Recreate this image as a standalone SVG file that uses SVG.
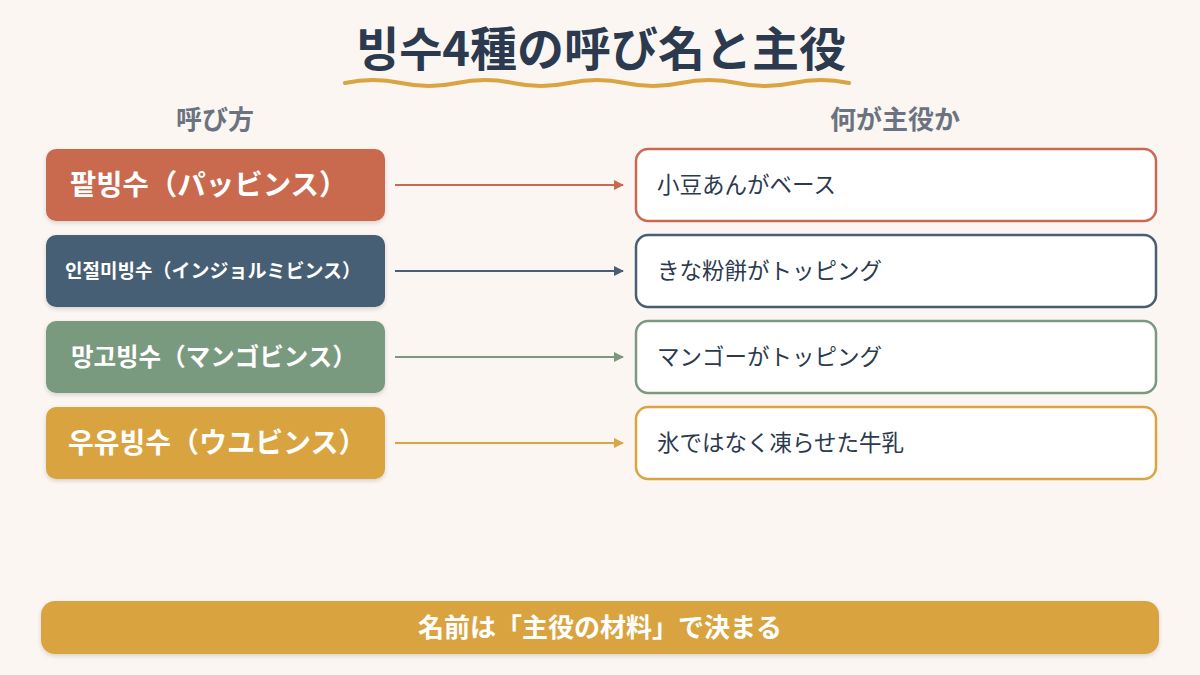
<svg xmlns="http://www.w3.org/2000/svg" width="1200" height="675" viewBox="0 0 1200 675">
<defs>
<style>
text{font-family:"Noto Sans CJK JP","Noto Sans CJK KR",sans-serif;}
.title{font-size:47px;font-weight:700;fill:#2B3A4E;}
.hdr{font-size:26px;font-weight:700;fill:#6B7280;}
.lbl{font-weight:700;fill:#FFFFFF;}
.rt{font-size:22.5px;fill:#2B3A4E;}
.rbox{fill:#FFFFFF;stroke-width:2.5;}
.conn{stroke-width:2;fill:none;}
</style>
<filter id="sh" x="-10%" y="-20%" width="120%" height="150%">
<feDropShadow dx="0" dy="2" stdDeviation="2" flood-color="#000" flood-opacity="0.15"/>
</filter>
<marker id="a1" markerWidth="10" markerHeight="10" refX="9" refY="5" orient="auto" markerUnits="userSpaceOnUse"><path d="M0,0 L10,5 L0,10 z" fill="#C96A50"/></marker>
<marker id="a2" markerWidth="10" markerHeight="10" refX="9" refY="5" orient="auto" markerUnits="userSpaceOnUse"><path d="M0,0 L10,5 L0,10 z" fill="#475E75"/></marker>
<marker id="a3" markerWidth="10" markerHeight="10" refX="9" refY="5" orient="auto" markerUnits="userSpaceOnUse"><path d="M0,0 L10,5 L0,10 z" fill="#7A9A80"/></marker>
<marker id="a4" markerWidth="10" markerHeight="10" refX="9" refY="5" orient="auto" markerUnits="userSpaceOnUse"><path d="M0,0 L10,5 L0,10 z" fill="#D9A441"/></marker>
</defs>
<rect width="1200" height="675" fill="#FBF6F2"/>
<g id="title">
<text class="title" x="601" y="66" text-anchor="middle">빙수4種の呼び名と主役</text>
<path d="M345,83 Q373,77 401,83 T457,83 T513,83 T569,83 T625,83 T681,83 T737,83 T793,83 T849,83" fill="none" stroke="#D9A441" stroke-width="4" stroke-linecap="round"/>
</g>
<g id="headers">
<text class="hdr" x="215" y="129" text-anchor="middle">呼び方</text>
<text class="hdr" x="895" y="129" text-anchor="middle">何が主役か</text>
</g>
<g id="connectors">
<line class="conn" x1="395" y1="185" x2="623" y2="185" stroke="#C96A50" marker-end="url(#a1)"/>
<line class="conn" x1="395" y1="271" x2="623" y2="271" stroke="#475E75" marker-end="url(#a2)"/>
<line class="conn" x1="395" y1="357" x2="623" y2="357" stroke="#7A9A80" marker-end="url(#a3)"/>
<line class="conn" x1="395" y1="443" x2="623" y2="443" stroke="#D9A441" marker-end="url(#a4)"/>
</g>
<g id="l1"><rect x="46" y="149" width="339" height="72" rx="10" fill="#C96A50" filter="url(#sh)"/><text class="lbl" x="70" y="195" font-size="28.5">팥빙수（パッビンス）</text></g>
<g id="l2"><rect x="46" y="235" width="339" height="72" rx="10" fill="#475E75" filter="url(#sh)"/><text class="lbl" x="65" y="278" font-size="19">인절미빙수（インジョルミビンス）</text></g>
<g id="l3"><rect x="46" y="321" width="339" height="72" rx="10" fill="#7A9A80" filter="url(#sh)"/><text class="lbl" x="71" y="366" font-size="24.5">망고빙수（マンゴビンス）</text></g>
<g id="l4"><rect x="46" y="407" width="339" height="72" rx="10" fill="#D9A441" filter="url(#sh)"/><text class="lbl" x="68" y="453" font-size="28">우유빙수（ウユビンス）</text></g>
<g id="r1"><rect class="rbox" x="636" y="149" width="520" height="72" rx="12" stroke="#C96A50"/><text class="rt" x="657" y="193">小豆あんがベース</text></g>
<g id="r2"><rect class="rbox" x="636" y="235" width="520" height="72" rx="12" stroke="#475E75"/><text class="rt" x="657" y="279">きな粉餅がトッピング</text></g>
<g id="r3"><rect class="rbox" x="636" y="321" width="520" height="72" rx="12" stroke="#7A9A80"/><text class="rt" x="657" y="365">マンゴーがトッピング</text></g>
<g id="r4"><rect class="rbox" x="636" y="407" width="520" height="72" rx="12" stroke="#D9A441"/><text class="rt" x="657" y="451">氷ではなく凍らせた牛乳</text></g>
<g id="footer"><rect x="41" y="601" width="1118" height="53" rx="14" fill="#D9A441" filter="url(#sh)"/><text class="lbl" x="600" y="637" font-size="26" text-anchor="middle">名前は「主役の材料」で決まる</text></g>
</svg>
